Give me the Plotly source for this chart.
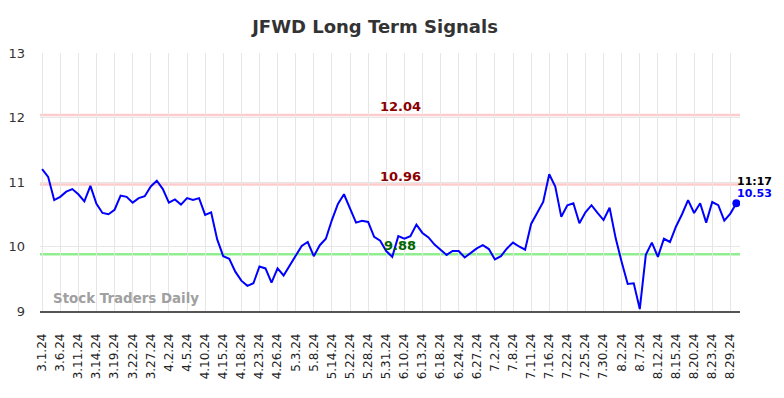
import plotly.graph_objects as go

title_text = "JFWD Long Term Signals"
tick_labels = ["3.1.24", "3.6.24", "3.11.24", "3.14.24", "3.19.24", "3.22.24", "3.27.24",
               "4.2.24", "4.5.24", "4.10.24", "4.15.24", "4.18.24", "4.23.24", "4.26.24",
               "5.3.24", "5.8.24", "5.14.24", "5.22.24", "5.28.24", "5.31.24", "6.10.24",
               "6.13.24", "6.18.24", "6.24.24", "6.27.24", "7.2.24", "7.8.24", "7.11.24",
               "7.16.24", "7.22.24", "7.25.24", "7.30.24", "8.2.24", "8.7.24", "8.12.24",
               "8.15.24", "8.20.24", "8.23.24", "8.29.24"]
tick_step = 3

values = [11.20, 11.08, 10.72, 10.77, 10.85, 10.89, 10.81, 10.70, 10.94, 10.66,
          10.52, 10.50, 10.57, 10.79, 10.77, 10.68, 10.75, 10.78, 10.93, 11.02,
          10.89, 10.68, 10.73, 10.65, 10.75, 10.72, 10.75, 10.49, 10.53, 10.11,
          9.85, 9.81, 9.61, 9.47, 9.39, 9.43, 9.69, 9.66, 9.44, 9.66,
          9.55, 9.70, 9.87, 10.01, 10.07, 9.85, 10.02, 10.12, 10.41, 10.66,
          10.81, 10.60, 10.37, 10.40, 10.38, 10.15, 10.09, 9.93, 9.84, 10.16,
          10.12, 10.16, 10.34, 10.21, 10.14, 10.03, 9.95, 9.87, 9.93, 9.93,
          9.83, 9.90, 9.97, 10.02, 9.96, 9.80, 9.85, 9.97, 10.06, 10.00,
          9.95, 10.35, 10.51, 10.69, 11.12, 10.93, 10.46, 10.64, 10.67, 10.36,
          10.53, 10.64, 10.52, 10.41, 10.60, 10.13, 9.76, 9.42, 9.43, 9.03,
          9.87, 10.06, 9.84, 10.12, 10.07, 10.31, 10.50, 10.72, 10.52, 10.67,
          10.37, 10.69, 10.64, 10.40, 10.51, 10.67]

upper_levels = [12.04, 10.96]
lower_level = 9.88
last_time = "11:17"
last_label = "10.53"
watermark = "Stock Traders Daily"
y_ticks = [9, 10, 11, 12, 13]

idx = list(range(len(values)))
tickvals = [i * tick_step for i in range(len(tick_labels))]

FONT = "DejaVu Sans"
W, H = 776, 390  # page body adds an 8px margin
LABEL_X = 59.3
fig = go.Figure()

for lv in upper_levels:
    fig.add_hline(y=lv, line=dict(color="#ffcccc", width=2.5), layer="below")
fig.add_hline(y=lower_level, line=dict(color="#90ee90", width=2.5), layer="below")

fig.add_trace(go.Scatter(x=idx, y=values, mode="lines",
                         line=dict(color="#0000ff", width=2), hoverinfo="skip"))
fig.add_trace(go.Scatter(x=[idx[-1]], y=[values[-1]], mode="markers",
                         marker=dict(color="#0000ff", size=8), hoverinfo="skip"))

for lv in upper_levels:
    fig.add_annotation(x=LABEL_X, y=lv, text=f"<b>{lv:.2f}</b>", showarrow=False,
                       yanchor="bottom", yshift=-1,
                       font=dict(family=FONT, size=13, color="#8b0000"))
fig.add_annotation(x=LABEL_X, y=lower_level, text=f"<b>{lower_level:.2f}</b>", showarrow=False,
                   yanchor="bottom", yshift=-1,
                   font=dict(family=FONT, size=13, color="#006400"))

fig.add_annotation(x=idx[-1], y=values[-1], text=f"<b>{last_time}</b>", showarrow=False,
                   xanchor="left", xshift=-1, yshift=22,
                   font=dict(family=FONT, size=11, color="#000000"))
fig.add_annotation(x=idx[-1], y=values[-1], text=f"<b>{last_label}</b>", showarrow=False,
                   xanchor="left", xshift=-1, yshift=10,
                   font=dict(family=FONT, size=11, color="#0000ff"))

fig.add_annotation(xref="paper", yref="paper", x=0.016, y=0.01, text=f"<b>{watermark}</b>",
                   showarrow=False, xanchor="left", yanchor="bottom",
                   font=dict(family=FONT, size=13.4, color="#a0a0a0"))

fig.update_layout(
    width=W, height=H,
    margin=dict(l=32, r=44, t=45, b=87, autoexpand=False),
    paper_bgcolor="white", plot_bgcolor="white",
    showlegend=False,
    title=dict(text=f"<b>{title_text}</b>", x=(375 - 8) / W, xanchor="center",
               y=1 - 19 / H, yanchor="middle",
               font=dict(family=FONT, size=18, color="#333333")),
    font=dict(family=FONT, color="#333333"),
)
fig.update_xaxes(range=[-0.35, 115.6], tickmode="array", tickvals=tickvals, ticktext=tick_labels,
                 tickangle=-90, tickfont=dict(family=FONT, size=12, color="#222222"),
                 showgrid=True, gridcolor="#e6e6e6", gridwidth=1,
                 showline=True, linecolor="#555555", linewidth=1.5,
                 ticks="", ticklabelstandoff=16, zeroline=False, automargin=False)
fig.update_yaxes(range=[9, 13], tickvals=y_ticks, tickfont=dict(family=FONT, size=13, color="#333333"),
                 showgrid=True, gridcolor="#e6e6e6", gridwidth=1, zeroline=False,
                 ticks="", ticklabelstandoff=14, automargin=False)

fig.write_html("out.html")
